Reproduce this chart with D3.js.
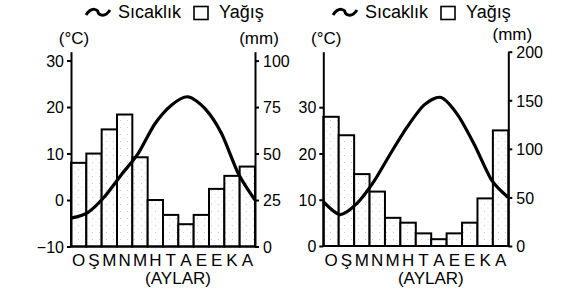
<!DOCTYPE html>
<html>
<head>
<meta charset="utf-8">
<script src="https://cdn.jsdelivr.net/npm/d3@7"></script>
<style>
  body { margin: 0; background: #fff; }
  svg { display: block; font-family: "Liberation Sans", Arial, sans-serif; }
  .axis path, .axis line { stroke: #000; stroke-width: 2; }
  .axis text { font-size: 16px; fill: #000; }
</style>
</head>
<body>
<div id="chart"></div>
<script>
// Aylar (ilk harfler)
const aylar = ["O", "Ş", "M", "N", "M", "H", "T", "A", "E", "E", "K", "A"];

// Birinci grafik
const sicaklik1 = [-3.9, -2.7, 0.7, 5.4, 9.9, 16.3, 20.4, 22.2, 19.7, 14.3, 5.7, 0];
const yagis1 = [45, 50, 63, 71, 48, 25, 17, 12, 17, 31, 38, 43];
const sicaklikTicks1 = [-10, 0, 10, 20, 30];
const yagisTicks1 = [0, 25, 50, 75, 100];

// İkinci grafik
const sicaklik2 = [9.6, 6.8, 9.2, 13.9, 20, 25.8, 30.5, 32.1, 28.3, 21.8, 14.3, 10.5];
const yagis2 = [133, 114, 74, 56, 29, 24, 13, 7, 13, 24, 49, 119];
const sicaklikTicks2 = [0, 10, 20, 30];
const yagisTicks2 = [0, 50, 100, 150, 200];

const W = 568, H = 294;

const svg = d3.select("#chart").append("svg")
  .attr("width", W)
  .attr("height", H);

svg.append("rect").attr("width", W).attr("height", H).attr("fill", "#fff");

// Noktalı dolgu (taranmış görüntü gibi)
const pat = svg.append("defs").append("pattern")
  .attr("id", "noktali")
  .attr("patternUnits", "userSpaceOnUse")
  .attr("width", 7).attr("height", 7);
pat.append("rect").attr("width", 7).attr("height", 7).attr("fill", "#fff");
pat.append("circle").attr("cx", 1.5).attr("cy", 1.5).attr("r", 0.6).attr("fill", "#c4c4c4");
pat.append("circle").attr("cx", 5).attr("cy", 5).attr("r", 0.5).attr("fill", "#d4d4d4");

/* Bir iklim grafiği çizer (sol eksen sıcaklık, sağ eksen yağış) */
function grafikCiz(o) {
  const g = svg.append("g");

  const xBand = d3.scaleBand().domain(d3.range(12)).range([o.x0, o.x1]).padding(0);
  const xNokta = d3.scalePoint().domain(d3.range(12)).range([o.x0, o.x1]);
  const yT = d3.scaleLinear().domain(o.tDomain).range([o.yBottom, o.yTop]);
  const yP = d3.scaleLinear().domain(o.pDomain).range([o.yBottom, o.yTop]);

  // Çubuklar
  g.selectAll(".bar").data(o.yagis).join("rect")
    .attr("class", "bar")
    .attr("x", (d, i) => xBand(i))
    .attr("y", d => yP(d))
    .attr("width", xBand.bandwidth())
    .attr("height", d => yP(0) - yP(d))
    .attr("fill", "url(#noktali)")
    .attr("stroke", "#000")
    .attr("stroke-width", 2);

  // Alt çizgi
  g.append("line")
    .attr("x1", o.x0).attr("x2", o.x1)
    .attr("y1", o.yBottom).attr("y2", o.yBottom)
    .attr("stroke", "#000").attr("stroke-width", 2);

  // Sıcaklık eğrisi
  const cizgi = d3.line()
    .x((d, i) => xNokta(i))
    .y(d => yT(d))
    .curve(d3.curveCardinal.tension(0.2));
  g.append("path")
    .datum(o.sicaklik)
    .attr("d", cizgi)
    .attr("fill", "none")
    .attr("stroke", "#000")
    .attr("stroke-width", 3.2)
    .attr("stroke-linejoin", "round");

  // Eksenler
  g.append("g").attr("class", "axis")
    .attr("transform", `translate(${o.x0},0)`)
    .call(d3.axisLeft(yT).tickValues(o.tTicks).tickSize(4).tickSizeOuter(0).tickPadding(3))
    .call(a => a.selectAll("text").attr("dy", "0.36em"));

  g.append("g").attr("class", "axis")
    .attr("transform", `translate(${o.x1},0)`)
    .call(d3.axisRight(yP).tickValues(o.pTicks).tickSize(4).tickSizeOuter(0).tickPadding(4))
    .call(a => a.selectAll("text").attr("dy", "0.36em"));

  // Birimler
  g.append("text").attr("x", o.x0 + 3).attr("y", 44)
    .attr("text-anchor", "middle").attr("font-size", 17).text("(°C)");
  g.append("text").attr("x", o.x1 + 4).attr("y", o.mmY)
    .attr("text-anchor", "middle").attr("font-size", 17).text("(mm)");

  // Ay harfleri
  g.selectAll(".ay").data(aylar).join("text")
    .attr("class", "ay")
    .attr("x", (d, i) => xBand(i) + xBand.bandwidth() / 2)
    .attr("y", 266)
    .attr("text-anchor", "middle")
    .attr("font-size", 17)
    .text(d => d);

  g.append("text")
    .attr("x", (o.x0 + o.x1) / 2 + 15).attr("y", 284)
    .attr("text-anchor", "middle").attr("font-size", 17)
    .text("(AYLAR)");

  // Lejant
  const lx = o.legendX;
  g.append("path")
    .attr("d", `M${lx},15 C${lx + 6},6 ${lx + 12},10 ${lx + 12},12 S${lx + 18},19 ${lx + 24},10`)
    .attr("fill", "none").attr("stroke", "#000").attr("stroke-width", 3);
  g.append("text").attr("x", lx + 32).attr("y", 18).attr("font-size", 18).text("Sıcaklık");
  g.append("rect").attr("x", lx + 108).attr("y", 6.5).attr("width", 14).attr("height", 13)
    .attr("fill", "#fff").attr("stroke", "#000").attr("stroke-width", 1.6);
  g.append("text").attr("x", lx + 133).attr("y", 18).attr("font-size", 18).text("Yağış");
}

grafikCiz({
  x0: 71, x1: 255, yTop: 51.7, yBottom: 246.5,
  tDomain: [-10, 31.9], pDomain: [0, 104.8],
  sicaklik: sicaklik1, yagis: yagis1,
  tTicks: sicaklikTicks1, pTicks: yagisTicks1,
  legendX: 86, mmY: 44
});

grafikCiz({
  x0: 323.3, x1: 508.3, yTop: 51.7, yBottom: 246,
  tDomain: [0, 42], pDomain: [0, 200],
  sicaklik: sicaklik2, yagis: yagis2,
  tTicks: sicaklikTicks2, pTicks: yagisTicks2,
  legendX: 333, mmY: 40
});
</script>
</body>
</html>
